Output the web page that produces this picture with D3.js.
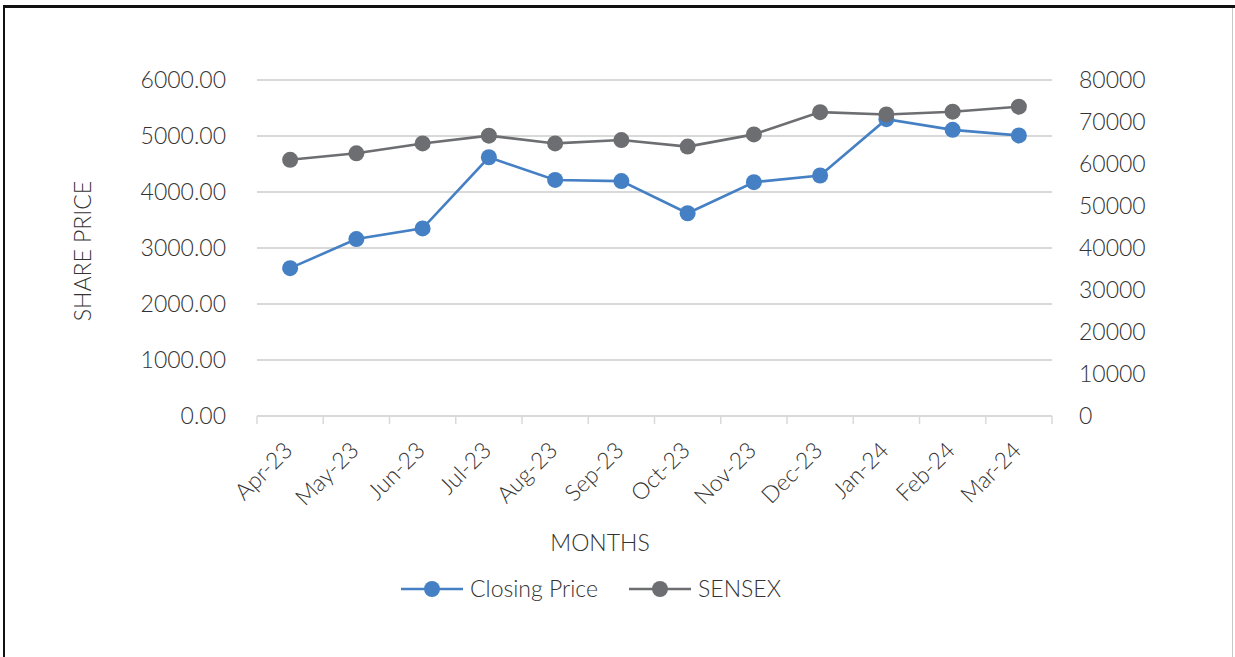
<!DOCTYPE html>
<html>
<head>
<meta charset="utf-8">
<script src="https://cdn.jsdelivr.net/npm/d3@7"></script>
<style>
  body { margin: 0; background: #fff; }
  text { font-family: Lato, "Open Sans", sans-serif; font-weight: 300; fill: #333; }
</style>
</head>
<body>
<div id="graph"></div>
<script>
var months = ['Apr-23', 'May-23', 'Jun-23', 'Jul-23', 'Aug-23', 'Sep-23', 'Oct-23', 'Nov-23', 'Dec-23', 'Jan-24', 'Feb-24', 'Mar-24']
var closingPrice = [2640, 3160, 3350, 4620, 4215, 4195, 3620, 4175, 4295, 5300, 5110, 5010]
var sensex = [61000, 62550, 64900, 66750, 64900, 65700, 64150, 67050, 72350, 71800, 72450, 73650]
var leftTicks = [0, 1000, 2000, 3000, 4000, 5000, 6000]
var rightTicks = [0, 10000, 20000, 30000, 40000, 50000, 60000, 70000, 80000]

var width = 1235, height = 657
var blue = '#4580c4', gray = '#6d6e71'
var fs = '23px'

var svg = d3.select('#graph').append('svg')
  .attr('width', width).attr('height', height)

// frame
svg.append('line').attr('x1', 3).attr('x2', width).attr('y1', 6.5).attr('y2', 6.5)
  .attr('stroke', '#111').attr('stroke-width', 3)
svg.append('line').attr('x1', 4).attr('x2', 4).attr('y1', 5).attr('y2', height)
  .attr('stroke', '#111').attr('stroke-width', 2)
svg.append('line').attr('x1', 1232.5).attr('x2', 1232.5).attr('y1', 8).attr('y2', height)
  .attr('stroke', '#c8c8c8').attr('stroke-width', 1)

var m = {left: 257, right: 1052, top: 80, bottom: 416}

var x = d3.scaleBand().domain(months).range([m.left, m.right])
var yL = d3.scaleLinear().domain([0, 6000]).range([m.bottom, m.top])
var yR = d3.scaleLinear().domain([0, 80000]).range([m.bottom, m.top])

// gridlines
svg.append('g').selectAll('line').data(leftTicks.slice(1)).join('line')
  .attr('x1', m.left).attr('x2', m.right)
  .attr('y1', d => yL(d)).attr('y2', d => yL(d))
  .attr('stroke', '#d9d9d9').attr('stroke-width', 2)

// x axis line + ticks
svg.append('line').attr('x1', m.left).attr('x2', m.right)
  .attr('y1', m.bottom).attr('y2', m.bottom)
  .attr('stroke', '#d9d9d9').attr('stroke-width', 2)
var bounds = months.map(d => x(d)).concat([m.right])
svg.append('g').selectAll('line').data(bounds).join('line')
  .attr('x1', d => d).attr('x2', d => d)
  .attr('y1', m.bottom).attr('y2', m.bottom + 8)
  .attr('stroke', '#d9d9d9').attr('stroke-width', 1.5)

// left axis labels
svg.append('g').selectAll('text').data(leftTicks).join('text')
  .attr('x', 226).attr('y', d => yL(d)).attr('dy', '0.36em')
  .attr('text-anchor', 'end').style('font-size', fs)
  .text(d => d3.format('.2f')(d))

// right axis labels
svg.append('g').selectAll('text').data(rightTicks).join('text')
  .attr('x', 1079).attr('y', d => yR(d)).attr('dy', '0.36em')
  .attr('text-anchor', 'start').style('font-size', fs)
  .text(d => d)

// x labels
svg.append('g').selectAll('text').data(months).join('text')
  .attr('transform', d => `translate(${x(d) + x.bandwidth() / 2 - 2},${m.bottom + 30}) rotate(-45)`)
  .attr('text-anchor', 'end').attr('dy', '0.36em')
  .style('font-size', fs)
  .text(d => d)

// axis titles
svg.append('text')
  .attr('transform', `translate(91,${(m.top + m.bottom) / 2 + 3}) rotate(-90)`)
  .attr('text-anchor', 'middle').style('font-size', fs)
  .text('SHARE PRICE')
svg.append('text').attr('x', 600).attr('y', 551)
  .attr('text-anchor', 'middle').style('font-size', fs)
  .text('MONTHS')

var cx = d => x(d) + x.bandwidth() / 2

function series(values, scale, color) {
  var pts = months.map((d, i) => [cx(d), scale(values[i])])
  svg.append('path').attr('d', d3.line()(pts))
    .attr('fill', 'none').attr('stroke', color).attr('stroke-width', 2.6)
  svg.append('g').selectAll('circle').data(pts).join('circle')
    .attr('cx', d => d[0]).attr('cy', d => d[1]).attr('r', 8)
    .attr('fill', color)
}
series(closingPrice, yL, blue)
series(sensex, yR, gray)

// legend
var legend = [
  {name: 'Closing Price', color: blue, x0: 401},
  {name: 'SENSEX', color: gray, x0: 629}
]
var lg = svg.append('g').selectAll('g').data(legend).join('g')
  .attr('transform', d => `translate(${d.x0},589)`)
lg.append('line').attr('x1', 0).attr('x2', 62)
  .attr('stroke', d => d.color).attr('stroke-width', 2.6)
lg.append('circle').attr('cx', 31).attr('r', 8).attr('fill', d => d.color)
lg.append('text').attr('x', 69).attr('dy', '0.36em')
  .style('font-size', fs).text(d => d.name)
</script>
</body>
</html>
